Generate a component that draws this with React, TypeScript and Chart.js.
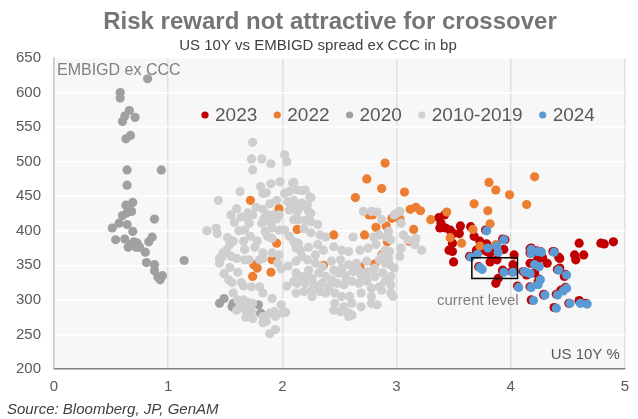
import React, { useEffect, useRef } from "react";
import { Chart, registerables } from "chart.js";
Chart.register(...registerables);

type P = [number, number];

const SERIES_NAMES = ["2023", "2022", "2020", "2010-2019", "2024"];
const SERIES_COLORS = ["#c00000", "#ed7d31", "#a0a0a0", "#d0cece", "#5b9bd5"];

const data2023: P[] = [
  [3.37, 419], [3.42, 423], [3.39, 411], [3.38, 404], [3.43, 404], [3.47, 401], [3.5, 396], [3.55, 396],
  [3.56, 407], [3.49, 382], [3.46, 372], [3.49, 370], [3.5, 355], [3.65, 406], [3.68, 392], [3.73, 385],
  [3.79, 381], [3.7, 372], [3.73, 372], [3.79, 370], [3.82, 368], [3.82, 355], [3.88, 358],
  [3.89, 331], [3.87, 324], [3.94, 373], [3.95, 387], [3.93, 343], [4.03, 365], [4.02, 351], [3.94, 341],
  [4.18, 375], [4.24, 360], [4.17, 353], [4.23, 356], [4.32, 353], [4.21, 339], [4.38, 370], [4.43, 360],
  [4.42, 362], [4.43, 346], [4.56, 365], [4.57, 358], [4.64, 365], [4.6, 382], [4.79, 382], [4.82, 381],
  [4.9, 384], [4.47, 334], [4.38, 289], [4.51, 295], [4.6, 299], [4.61, 296], [4.66, 295], [4.44, 314],
  [4.48, 318], [4.18, 300], [4.29, 307], [4.17, 319], [4.06, 320], [4.24, 326], [4.11, 341], [4.14, 336],
  [4.03, 341], [4.28, 361], [3.78, 401], [3.93, 388], [3.7, 367], [3.64, 363], [3.79, 376], [3.87, 379],
  [3.88, 370], [3.72, 348], [3.93, 341], [4.01, 341], [4.17, 374], [4.17, 368], [4.23, 371], [4.26, 370],
  [4.37, 370], [4.2, 352], [4.24, 349], [4.41, 344], [4.48, 337], [4.25, 330], [4.4, 308], [4.29, 308],
];

const data2022: P[] = [
  [1.72, 444], [1.97, 432], [2.13, 402], [1.95, 382], [1.91, 358], [1.75, 351], [1.78, 346], [1.74, 334],
  [1.9, 340], [2.45, 394], [2.36, 350], [2.68, 348], [2.81, 352], [2.72, 394], [2.64, 448], [2.74, 475],
  [2.87, 461], [2.9, 498], [2.76, 423], [2.79, 423], [2.82, 405], [2.91, 407], [2.92, 384], [2.96, 418],
  [3.03, 417], [2.87, 365], [3.81, 470], [3.87, 459], [3.07, 456], [3.99, 452], [3.68, 439], [3.12, 431],
  [3.17, 434], [3.21, 429], [3.44, 427], [3.8, 429], [3.3, 416], [3.82, 410], [3.15, 402], [3.67, 402],
  [3.47, 390], [3.57, 382], [3.73, 378], [3.11, 385], [4.21, 478], [4.14, 438], [3.87, 380],
];

const data2020: P[] = [
  [0.82, 620], [0.58, 600], [0.58, 592], [0.66, 574], [0.62, 566], [0.71, 564], [0.6, 558], [0.67, 538],
  [0.63, 533], [0.64, 488], [0.94, 488], [0.64, 466], [0.69, 441], [0.63, 437], [0.66, 430], [0.68, 428],
  [0.64, 426], [0.6, 422], [0.88, 417], [0.57, 411], [0.64, 409], [0.51, 404], [0.69, 399], [0.54, 387],
  [0.62, 388], [0.86, 391], [0.83, 384], [0.7, 384], [0.73, 382], [0.67, 380], [0.65, 376], [0.72, 376],
  [0.75, 376], [0.8, 369], [1.14, 357], [0.81, 354], [0.88, 351], [0.88, 342], [0.91, 333], [0.95, 335],
  [0.93, 329], [1.49, 302], [1.45, 295], [1.57, 295], [1.56, 290], [1.79, 293], [1.81, 281],
];

const data2010_2019: P[] = [
  [1.74, 528], [1.73, 504], [1.82, 504], [1.9, 497], [1.74, 488], [2.02, 510], [2.04, 500], [1.98, 471],
  [1.9, 468], [1.81, 464], [1.83, 454], [1.86, 455], [1.63, 457], [1.44, 444], [1.6, 432], [1.55, 423],
  [1.64, 420], [1.68, 420], [1.7, 426], [1.74, 423], [1.77, 434], [1.83, 431], [1.89, 439], [1.95, 444],
  [1.87, 423], [1.92, 423], [1.84, 418], [1.71, 411], [1.82, 411], [1.9, 411], [1.95, 417], [1.97, 423],
  [2.06, 430], [2.1, 444], [2.02, 454], [2.06, 457], [2.09, 469], [1.67, 401], [1.85, 399], [1.91, 404],
  [1.97, 401], [2.02, 401], [2.06, 392], [1.91, 389], [1.87, 392], [1.42, 404], [1.34, 400], [1.43, 396],
  [1.62, 400], [1.57, 385], [1.66, 385], [1.54, 380], [1.76, 376], [1.67, 373], [1.51, 372], [1.48, 368],
  [1.55, 363], [1.6, 360], [1.67, 358], [1.71, 358], [1.83, 368], [1.83, 360], [1.8, 358], [1.91, 368],
  [1.97, 365], [1.45, 360], [1.45, 353], [1.54, 347], [1.96, 353], [2.05, 349], [1.99, 345], [1.53, 329],
  [1.56, 325], [1.64, 325], [1.66, 320], [1.73, 319], [1.8, 319], [2.04, 320], [1.57, 310], [1.83, 310],
  [1.91, 302], [1.61, 300], [1.66, 300], [1.7, 296], [1.74, 295], [1.63, 293], [1.6, 285], [1.68, 285],
  [1.73, 283], [1.68, 275], [1.74, 273], [1.83, 276], [1.89, 281], [1.93, 283], [1.94, 276], [1.99, 293],
  [2.0, 281], [2.03, 282], [1.83, 267], [1.86, 269], [1.94, 257], [1.89, 251], [1.47, 362],
  [1.52, 390], [1.58, 412], [1.49, 338], [1.61, 340], [1.72, 392], [1.78, 385],
  [2.1, 470], [2.13, 459], [2.17, 458], [2.2, 459], [2.25, 448], [2.1, 440], [2.17, 440], [2.22, 438],
  [2.13, 428], [2.23, 428], [2.1, 416], [2.14, 416], [2.2, 415], [2.25, 413], [2.31, 409], [2.19, 403],
  [2.25, 397], [2.33, 394], [2.38, 391], [2.1, 384], [2.14, 382], [2.12, 375], [2.16, 372], [2.23, 376],
  [2.31, 380], [2.36, 372], [2.45, 377], [2.52, 372], [2.58, 370], [2.62, 391], [2.68, 372], [2.75, 375],
  [2.8, 391], [2.85, 394], [2.82, 380], [2.91, 391], [2.95, 387], [2.9, 372], [2.94, 370], [2.93, 360],
  [2.87, 363], [2.9, 353], [2.94, 351], [2.71, 428], [2.78, 428], [2.83, 427], [2.87, 416], [2.93, 399],
  [2.98, 423], [3.01, 426], [2.24, 449], [2.05, 442], [2.12, 433], [2.17, 435], [2.25, 425],
  [2.12, 356], [2.17, 363], [2.22, 358], [2.29, 365], [2.29, 353], [2.43, 356], [2.51, 358], [2.58, 351],
  [2.65, 353], [2.74, 356], [2.85, 358], [2.12, 339], [2.16, 334], [2.22, 336], [2.26, 331], [2.32, 339],
  [2.38, 334], [2.45, 343], [2.49, 339], [2.55, 336], [2.62, 341], [2.69, 336], [2.75, 341], [2.81, 334],
  [2.88, 339], [2.95, 334], [2.13, 324], [2.2, 324], [2.28, 322], [2.35, 324], [2.41, 319], [2.48, 324],
  [2.54, 322], [2.61, 327], [2.67, 324], [2.74, 327], [2.78, 317], [2.85, 319], [2.95, 322], [2.12, 310],
  [2.19, 312], [2.26, 314], [2.33, 312], [2.38, 310], [2.46, 310], [2.52, 305], [2.59, 305], [2.78, 305],
  [2.87, 314], [2.46, 295], [2.61, 295], [2.83, 293], [2.45, 285], [2.51, 283], [2.58, 281], [2.61, 278],
  [2.58, 276], [2.23, 343], [2.35, 348], [2.52, 346], [2.67, 343], [2.81, 346], [2.43, 329], [2.56, 329],
  [2.73, 334], [2.9, 327], [2.1, 327], [2.26, 305], [2.69, 310], [2.95, 310], [2.78, 295], [2.54, 290],
  [2.69, 290], [3.03, 428], [3.04, 411], [3.06, 394], [3.1, 387], [3.17, 389], [3.16, 380], [3.22, 372],
  [3.04, 375], [3.03, 363], [2.98, 346], [2.97, 305],
];

const data2024: P[] = [
  [3.79, 400], [3.94, 387], [3.71, 366], [3.65, 362], [3.8, 375], [3.88, 378], [3.89, 369], [3.73, 347],
  [3.75, 344], [3.94, 340], [4.02, 340], [4.18, 373], [4.18, 367], [4.24, 370], [4.27, 369], [4.38, 369],
  [4.21, 351], [4.25, 348], [4.12, 341], [4.17, 338], [4.14, 340], [4.42, 343], [4.49, 336], [4.26, 329],
  [4.24, 322], [4.07, 318], [4.18, 318], [4.3, 307], [4.41, 307], [4.46, 313], [4.49, 317], [4.2, 299],
  [4.52, 295], [4.61, 295], [4.67, 294], [4.4, 288],
];

const SERIES_DATA: P[][] = [data2023, data2022, data2020, data2010_2019, data2024];
// drawing order: 2023 at the bottom, 2024 on top
const SERIES_ORDER = [5, 4, 3, 2, 1];

const X_MIN = 0, X_MAX = 5, X_STEP = 1;
const Y_MIN = 200, Y_MAX = 650, Y_STEP = 50;
const CURRENT_BOX = { xMin: 3.66, xMax: 4.06, yMin: 331, yMax: 361 };

const TITLE = "Risk reward not attractive for crossover";
const SUBTITLE = "US 10Y vs EMBIGD spread ex CCC in bp";
const Y_NOTE = "EMBIGD ex CCC";
const X_NOTE = "US 10Y %";
const BOX_NOTE = "current level";
const SOURCE = "Source: Bloomberg, JP, GenAM";

const FONT = "'Liberation Sans', Arial, sans-serif";

const overlay = {
  id: "overlay",
  beforeDraw(chart: any) {
    const { ctx, chartArea: a } = chart;
    ctx.save();
    ctx.fillStyle = "#ffffff";
    ctx.fillRect(0, 0, chart.width, chart.height);
    ctx.fillStyle = "#f7f7f7";
    ctx.fillRect(a.left, a.top, a.right - a.left, a.bottom - a.top);
    ctx.restore();
  },
  afterDatasetsDraw(chart: any) {
    const { ctx } = chart;
    const xs = chart.scales.x, ys = chart.scales.y;
    const x1 = xs.getPixelForValue(CURRENT_BOX.xMin);
    const x2 = xs.getPixelForValue(CURRENT_BOX.xMax);
    const y1 = ys.getPixelForValue(CURRENT_BOX.yMax);
    const y2 = ys.getPixelForValue(CURRENT_BOX.yMin);
    ctx.save();
    ctx.strokeStyle = "#000000";
    ctx.lineWidth = 1.5;
    ctx.strokeRect(x1, y1, x2 - x1, y2 - y1);
    ctx.restore();
  },
  afterDraw(chart: any) {
    const { ctx, chartArea: a } = chart;
    ctx.save();
    ctx.textBaseline = "middle";
    ctx.textAlign = "center";
    ctx.fillStyle = "#757575";
    ctx.font = `bold 24px ${FONT}`;
    ctx.fillText(TITLE, 330, 22);
    ctx.fillStyle = "#404040";
    ctx.font = `15px ${FONT}`;
    ctx.fillText(SUBTITLE, 318, 46);
    ctx.textAlign = "left";
    ctx.font = `19px ${FONT}`;
    let lx = 205;
    const ly = 115;
    SERIES_NAMES.forEach((name, i) => {
      ctx.fillStyle = SERIES_COLORS[i];
      ctx.beginPath();
      ctx.arc(lx, ly, 3.6, 0, Math.PI * 2);
      ctx.fill();
      ctx.fillStyle = "#595959";
      ctx.fillText(name, lx + 10, ly + 1);
      lx += 10 + ctx.measureText(name).width + 20;
    });
    ctx.fillStyle = "#7f7f7f";
    ctx.font = `16px ${FONT}`;
    ctx.fillText(Y_NOTE, a.left + 3, 71);
    ctx.font = `15px ${FONT}`;
    ctx.fillText(BOX_NOTE, 437, 301);
    ctx.fillStyle = "#595959";
    ctx.textAlign = "right";
    ctx.fillText(X_NOTE, a.right - 5, 355);
    ctx.textAlign = "left";
    ctx.fillStyle = "#404040";
    ctx.font = `italic 15px ${FONT}`;
    ctx.fillText(SOURCE, 7, 410);
    ctx.restore();
  },
};

export default function App() {
  const ref = useRef<HTMLCanvasElement | null>(null);
  useEffect(() => {
    document.body.style.margin = "0";
    const canvas = ref.current;
    if (!canvas) return;
    const chart = new Chart(canvas, {
      type: "scatter",
      data: {
        datasets: SERIES_NAMES.map((name, i) => ({
          label: name,
          data: SERIES_DATA[i].map(([x, y]) => ({ x, y })),
          backgroundColor: SERIES_COLORS[i],
          borderColor: SERIES_COLORS[i],
          pointRadius: 4.6,
          pointBorderWidth: 0,
          order: SERIES_ORDER[i],
        })),
      },
      options: {
        responsive: false,
        maintainAspectRatio: false,
        animation: false,
        layout: { padding: { top: 58, right: 7, left: 0, bottom: 0 } },
        plugins: { legend: { display: false }, title: { display: false }, tooltip: { enabled: false } },
        scales: {
          x: {
            type: "linear",
            min: X_MIN,
            max: X_MAX,
            afterFit: (s: any) => { s.height = 50; },
            ticks: { stepSize: X_STEP, color: "#595959", font: { family: FONT, size: 15 }, padding: 9 },
            grid: { color: "#e0e0e0", lineWidth: 1.5, drawTicks: false },
            border: { color: "#7f7f7f", width: 1.5 },
          },
          y: {
            type: "linear",
            min: Y_MIN,
            max: Y_MAX,
            afterFit: (s: any) => { s.width = 54; },
            ticks: { stepSize: Y_STEP, color: "#595959", font: { family: FONT, size: 15 }, padding: 13 },
            grid: { color: "#ffffff", lineWidth: 1.5, drawTicks: false },
            border: { color: "#c8c8c8", width: 1.5 },
          },
        },
      },
      plugins: [overlay],
    });
    return () => chart.destroy();
  }, []);
  return (
    <div style={{ position: "fixed", left: 0, top: 0, width: 638, height: 419 }}>
      <canvas ref={ref} width={638} height={419} style={{ width: 638, height: 419 }} />
    </div>
  );
}
